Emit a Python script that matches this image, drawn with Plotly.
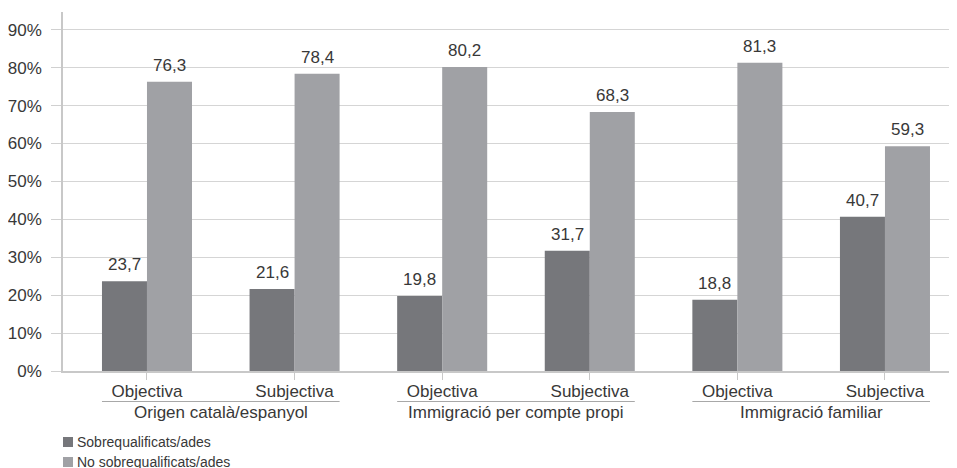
import plotly.graph_objects as go

groups = ["Origen català/espanyol", "Immigració per compte propi", "Immigració familiar"]
types = ["Objectiva", "Subjectiva"]
series_names = ["Sobrequalificats/ades", "No sobrequalificats/ades"]
sobre = [23.7, 21.6, 19.8, 31.7, 18.8, 40.7]
no_sobre = [76.3, 78.4, 80.2, 68.3, 81.3, 59.3]
y_ticks = [0, 10, 20, 30, 40, 50, 60, 70, 80, 90]

DARK = "#76777b"
LIGHT = "#a0a1a5"
TXT = "#383838"
FONT = "Liberation Sans, Arial, sans-serif"

# page has an 8px body margin; figure is sized to fill the rest of the window
OFF = 8
W, H = 957 - OFF, 468 - OFF
ML, MR, MT, MB = 63 - OFF, 0, 12 - OFF, 468 - 371
plot_w = W - ML - MR
plot_h = H - MT - MB

def px_x(sx):  # screen px -> paper
    return (sx - OFF - ML) / plot_w

def px_y(sy):
    return (H - MB - (sy - OFF)) / plot_h

n = len(sobre)
pos = list(range(n))
bw = 0.305
cat_labels = [types[i % 2] for i in range(n)]
colors = [DARK, LIGHT]

fig = go.Figure()
fig.add_trace(go.Bar(x=[p - bw / 2 for p in pos], y=sobre, width=bw, name=series_names[0],
                     marker=dict(color=DARK, line=dict(width=0))))
fig.add_trace(go.Bar(x=[p + bw / 2 for p in pos], y=no_sobre, width=bw, name=series_names[1],
                     marker=dict(color=LIGHT, line=dict(width=0))))

def fmt(v):
    return f"{v:.1f}".replace(".", ",")

for vals, off in ((sobre, -bw / 2), (no_sobre, bw / 2)):
    for p, v in zip(pos, vals):
        fig.add_annotation(x=p + off, y=v, xref="x", yref="y", text=fmt(v), showarrow=False,
                           yanchor="bottom", yshift=5, font=dict(size=17, color=TXT, family=FONT))

# group labels and underline
for g, name in enumerate(groups):
    a = 2 * g
    fig.add_shape(type="line", xref="x", yref="paper", x0=a - bw, x1=a + 1 + bw,
                  y0=px_y(401.5), y1=px_y(401.5), line=dict(color="#a8a8a8", width=1))
    fig.add_annotation(x=a + 0.5, y=px_y(412), xref="x", yref="paper", text=name,
                       showarrow=False, yanchor="middle", font=dict(size=17, color=TXT, family=FONT))

# legend (manual; second row partly cut by the bottom edge as in the reference)
for k, (name, col) in enumerate(zip(series_names, colors)):
    cy = 442 + 20 * k
    fig.add_shape(type="rect", xref="paper", yref="paper",
                  x0=px_x(63), x1=px_x(73), y0=px_y(cy - 5), y1=px_y(cy + 5),
                  fillcolor=col, line=dict(width=0))
    fig.add_annotation(x=px_x(75), y=px_y(cy), xref="paper", yref="paper", text=name,
                       showarrow=False, xanchor="left", yanchor="middle",
                       font=dict(size=14, color=TXT, family=FONT))

fig.update_layout(
    width=W, height=H,
    margin=dict(l=ML, r=MR, t=MT, b=MB),
    paper_bgcolor="white", plot_bgcolor="white",
    barmode="overlay",
    font=dict(family=FONT, color=TXT),
    showlegend=False,
    xaxis=dict(range=[-0.569, 5.488], tickmode="array", tickvals=pos, ticktext=cat_labels,
               ticks="outside", ticklen=7, tickcolor="#c8c8c8", tickwidth=1,
               ticklabelstandoff=-3,
               showline=True, linecolor="#c8c8c8", linewidth=1.5, showgrid=False, zeroline=False,
               tickfont=dict(size=17, color=TXT, family=FONT), fixedrange=True, automargin=False),
    yaxis=dict(range=[0, 94.7], tickmode="array", tickvals=y_ticks,
               ticktext=[f"{t}%" for t in y_ticks],
               ticks="outside", ticklen=10, tickcolor="#d0d0d0", tickwidth=1,
               ticklabelstandoff=6,
               showline=True, linecolor="#c8c8c8", linewidth=1.5,
               showgrid=True, gridcolor="#d5d5d5", gridwidth=1, zeroline=False,
               tickfont=dict(size=17, color=TXT, family=FONT), fixedrange=True, automargin=False),
)

fig.write_html("out.html")
